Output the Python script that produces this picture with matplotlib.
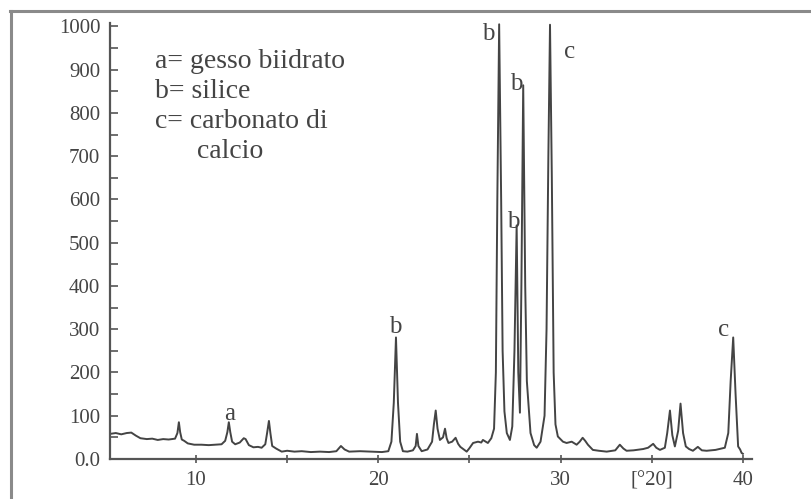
import matplotlib
matplotlib.use("Agg")
import matplotlib.pyplot as plt
from matplotlib.lines import Line2D

# diffractogram: 2-theta [deg] and counts
two_theta = [
    5.28, 5.6, 5.9, 6.2, 6.45, 6.7, 6.95, 7.3, 7.6, 7.9, 8.2, 8.5, 8.85, 8.98, 9.06, 9.13,
    9.22, 9.35, 9.55, 9.9, 10.3, 10.7, 11.1, 11.4, 11.6, 11.72, 11.8, 11.88, 11.98, 12.15,
    12.4, 12.62, 12.72, 12.9, 13.15, 13.4, 13.6, 13.8, 13.9, 14.0, 14.08, 14.18, 14.4, 14.7,
    15.0, 15.4, 15.8, 16.3, 16.8, 17.3, 17.7, 17.95, 18.15, 18.4, 19.0, 19.6, 20.2, 20.55,
    20.72, 20.85, 20.97, 21.08, 21.2, 21.35, 21.6, 21.9, 22.05, 22.12, 22.2, 22.38, 22.7,
    22.95, 23.05, 23.15, 23.25, 23.38, 23.55, 23.66, 23.75, 23.85, 24.05, 24.24, 24.38, 24.5,
    24.85, 25.0, 25.2, 25.47, 25.65, 25.74, 25.9, 26.01, 26.2, 26.35, 26.45, 26.53, 26.63,
    26.74, 26.82, 26.92, 27.05, 27.22, 27.35, 27.47, 27.59, 27.68, 27.77, 27.85, 27.95, 28.06,
    28.15, 28.35, 28.55, 28.69, 28.9, 29.12, 29.23, 29.33, 29.42, 29.52, 29.62, 29.72, 29.85,
    30.13, 30.33, 30.61, 30.88, 31.05, 31.21, 31.35, 31.5, 31.77, 32.1, 32.53, 33.0, 33.25,
    33.45, 33.62, 34.0, 34.53, 34.8, 35.08, 35.25, 35.45, 35.72, 35.85, 36.0, 36.13, 36.27,
    36.45, 36.58, 36.72, 36.87, 37.05, 37.26, 37.53, 37.75, 38.01, 38.5, 39.01, 39.2, 39.33,
    39.47, 39.6, 39.74, 39.85, 39.93, 40.0,
]
counts = [
    58, 60, 57, 60, 61, 54, 48, 46, 47, 44, 46, 45, 47, 60, 85, 62,
    45, 42, 36, 33, 33, 32, 33, 34, 42, 62, 85, 62, 40, 34,
    38, 48, 46, 32, 27, 28, 26, 34, 60, 88, 60, 30, 24, 17,
    19, 17, 18, 16, 17, 16, 18, 30, 22, 17, 18, 17, 16, 18,
    40, 130, 281, 130, 40, 18, 17, 20, 30, 58, 30, 18, 22,
    40, 80, 112, 70, 44, 50, 70, 48, 37, 40, 49, 35, 28,
    17, 25, 37, 40, 38, 44, 40, 37, 48, 70, 200, 600, 1005,
    600, 250, 110, 60, 44, 75, 250, 540, 200, 107, 400, 864, 400,
    180, 60, 32, 26, 40, 100, 300, 700, 1004, 650, 200, 80, 52,
    40, 37, 40, 33, 40, 49, 42, 33, 21, 19, 17, 20, 33,
    24, 19, 20, 23, 26, 35, 26, 21, 26, 60, 112, 55, 29,
    65, 128, 60, 29, 23, 19, 28, 20, 19, 21, 26, 60, 180,
    281, 150, 29, 22, 14, 12,
]

# phase labels on the peaks (baseline of the letter)
peak_letters = ["a", "b", "b", "b", "b", "c", "c"]
peak_x = [11.85, 20.96, 26.05, 27.58, 27.39, 30.49, 38.96]
peak_y = [89, 292, 968, 852, 534, 926, 285]

legend_lines = ["a= gesso biidrato", "b= silice", "c= carbonato di", "      calcio"]

y_ticks = [0, 100, 200, 300, 400, 500, 600, 700, 800, 900, 1000]
y_tick_labels = ["0.0", "100", "200", "300", "400", "500", "600", "700", "800", "900", "1000"]
x_ticks = [10, 15, 20, 25, 30, 35, 40]
x_tick_labels = ["10", "", "20", "", "30", "[°20]", "40"]

ink = "#444444"
plt.rcParams["font.family"] = ["Liberation Serif", "DejaVu Serif"]

fig = plt.figure(figsize=(8.11, 4.99), dpi=100)
ax = fig.add_axes([0.1356, 0.0802, 0.7914, 0.8737])

ax.plot(two_theta, counts, color=ink, linewidth=1.4)

ax.set_xlim(5.28, 40.49)
ax.set_ylim(0, 1008)
for side in ["top", "right"]:
    ax.spines[side].set_visible(False)
for side in ["left", "bottom"]:
    ax.spines[side].set_color("#555555")
    ax.spines[side].set_linewidth(1.6)

ax.set_yticks(y_ticks)
ax.set_yticklabels(y_tick_labels)
ax.set_yticks(range(50, 1000, 100), minor=True)
ax.set_xticks(x_ticks)
ax.set_xticklabels(x_tick_labels)
ax.tick_params(axis="y", which="both", direction="in", length=6, width=1.2,
               color="#555555", labelsize=15, labelcolor=ink, pad=7)
ax.tick_params(axis="x", direction="inout", length=6, width=1.2,
               color="#555555", labelsize=15, labelcolor=ink, pad=6)

for letter, px, py in zip(peak_letters, peak_x, peak_y):
    ax.text(px, py, letter, ha="center", va="baseline", fontsize=18, color=ink)

for i, line in enumerate(legend_lines):
    ax.text(7.75, 918 - i * 69, line, ha="left", va="center", fontsize=20, color=ink)

# grey frame of the scanned figure (top and left edges)
fig.add_artist(Line2D([0.012, 1.0], [0.977, 0.977], color="#8a8a8a", linewidth=2.2))
fig.add_artist(Line2D([0.013, 0.013], [0.0, 0.977], color="#8a8a8a", linewidth=2.2))

fig.savefig("out.png", dpi=100)
